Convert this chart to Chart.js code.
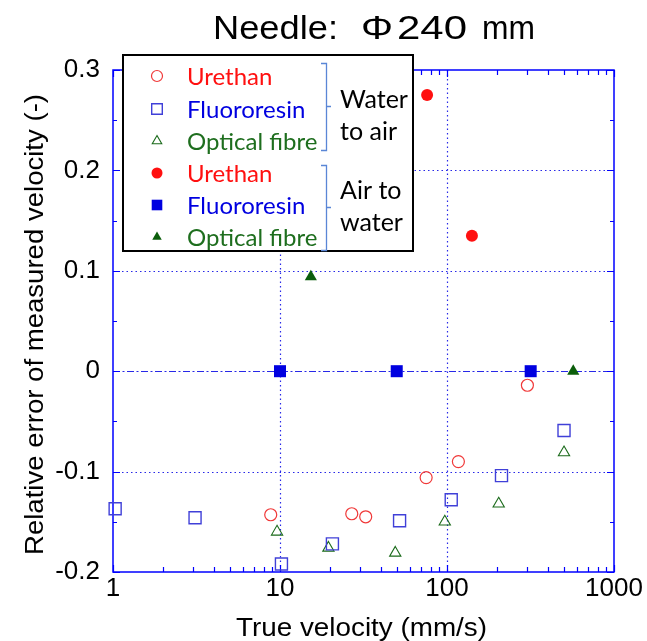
<!DOCTYPE html>
<html><head><meta charset="utf-8">
<script src="https://cdn.jsdelivr.net/npm/chart.js@4/dist/chart.umd.min.js"></script>
<style>html,body{margin:0;padding:0;background:#fff}#wrap{width:647px;height:641px;position:relative}</style>
</head><body><div id="wrap"><canvas id="c" width="647" height="641"></canvas></div>
<script>
// ---- text ----
const titleParts = ['Needle:', '\u03A6', '240', 'mm'];
const xTitle = 'True velocity (mm/s)';
const yTitle = 'Relative error of measured velocity (-)';
const xTickValues = [1, 10, 100, 1000];
const yTickValues = [-0.2, -0.1, 0, 0.1, 0.2, 0.3];
const materials = ['Urethan', 'Fluororesin', 'Optical fibre'];
const groupLabels = [['Water', 'to air'], ['Air to', 'water']];

// ---- data: water to air (open markers) ----
const w2aUrethanX = [8.8, 26.9, 32.6, 75, 117, 303];
const w2aUrethanY = [-0.143, -0.142, -0.145, -0.106, -0.090, -0.014];
const w2aFluoroX = [1.03, 3.1, 10.2, 20.6, 52, 106, 212, 502];
const w2aFluoroY = [-0.137, -0.146, -0.192, -0.172, -0.149, -0.128, -0.104, -0.059];
const w2aFibreX = [9.6, 19.5, 49, 97, 204, 502];
const w2aFibreY = [-0.160, -0.176, -0.181, -0.150, -0.132, -0.081];

// ---- data: air to water (filled markers) ----
const a2wUrethanX = [76, 141];
const a2wUrethanY = [0.275, 0.135];
const a2wFluoroX = [10, 50, 317];
const a2wFluoroY = [0, 0, 0];
const a2wFibreX = [15.3, 570];
const a2wFibreY = [0.094, 0];

const pts = (xs, ys) => xs.map((x, i) => ({x, y: ys[i]}));

const RED = '#FF1010', BLUE = '#0000E0', GREEN = '#0B5E0B';
const RED_O = '#F03838', BLUE_O = '#4040D8', GREEN_O = '#1A6A1A';

const datasets = [
  {label: materials[0], data: pts(w2aUrethanX, w2aUrethanY), pointStyle: 'circle', pointRadius: 6, borderWidth: 1.2, borderColor: RED_O, backgroundColor: 'rgba(0,0,0,0)'},
  {label: materials[1], data: pts(w2aFluoroX, w2aFluoroY), pointStyle: 'rect', pointRadius: 8.5, borderWidth: 1.4, borderColor: BLUE_O, backgroundColor: 'rgba(0,0,0,0)'},
  {label: materials[2], data: pts(w2aFibreX, w2aFibreY), pointStyle: 'triangle', pointRadius: 6.5, borderWidth: 1.1, borderColor: GREEN_O, backgroundColor: 'rgba(0,0,0,0)'},
  {label: materials[0], data: pts(a2wUrethanX, a2wUrethanY), pointStyle: 'circle', pointRadius: 6, borderWidth: 0, borderColor: RED, backgroundColor: RED},
  {label: materials[1], data: pts(a2wFluoroX, a2wFluoroY), pointStyle: 'rect', pointRadius: 8.5, borderWidth: 0, borderColor: BLUE, backgroundColor: BLUE},
  {label: materials[2], data: pts(a2wFibreX, a2wFibreY), pointStyle: 'triangle', pointRadius: 7, borderWidth: 0, borderColor: GREEN, backgroundColor: GREEN}
];
datasets.forEach(d => { d.showLine = false; d.clip = false; d.pointHoverRadius = d.pointRadius; });

const textColors = [RED, BLUE, '#1E6E1E'];
const LEG_FONT = '24px Lato';

function fitText(ctx, text, x0, x1, baseY) {
  const w = ctx.measureText(text).width;
  const s = (x1 - x0) / w;
  ctx.save();
  ctx.translate(x0, baseY);
  ctx.scale(s, 1);
  ctx.textAlign = 'left';
  ctx.textBaseline = 'alphabetic';
  ctx.fillText(text, 0, 0);
  ctx.restore();
}

const decor = {
  id: 'decor',
  beforeDatasetsDraw(chart) {
    const {ctx, chartArea: a, scales: {x, y}} = chart;
    ctx.save();
    ctx.strokeStyle = '#2828E8';
    ctx.lineWidth = 1.2;
    ctx.setLineDash([1.5, 3]);
    [0.2, 0.1, -0.1].forEach(v => {
      const py = Math.round(y.getPixelForValue(v)) + 0.5;
      ctx.beginPath(); ctx.moveTo(a.left, py); ctx.lineTo(a.right, py); ctx.stroke();
    });
    [10, 100].forEach(v => {
      const px = Math.round(x.getPixelForValue(v)) + 0.5;
      ctx.beginPath(); ctx.moveTo(px, a.top); ctx.lineTo(px, a.bottom); ctx.stroke();
    });
    ctx.setLineDash([7, 2.5, 2, 2.5]);
    const p0 = Math.round(y.getPixelForValue(0)) + 0.5;
    ctx.beginPath(); ctx.moveTo(a.left, p0); ctx.lineTo(a.right, p0); ctx.stroke();
    ctx.setLineDash([]);
    ctx.strokeStyle = '#0000FF';
    ctx.lineWidth = 1.5;
    ctx.strokeRect(a.left, a.top, a.right - a.left, a.bottom - a.top);
    ctx.lineWidth = 1.2;
    ctx.beginPath();
    for (let v = -0.2; v <= 0.3001; v += 0.05) {
      const py = Math.round(y.getPixelForValue(v)) + 0.5;
      const major = Math.abs(Math.round(v * 10) - v * 10) < 1e-6;
      const L = major ? 7 : 4;
      ctx.moveTo(a.left, py); ctx.lineTo(a.left + L, py);
      ctx.moveTo(a.right, py); ctx.lineTo(a.right - L, py);
    }
    [1, 10, 100].forEach(d => {
      for (let k = 1; k <= 10; k++) {
        const v = d * k;
        const px = Math.round(x.getPixelForValue(v)) + 0.5;
        const L = (k === 1 || k === 10) ? 7 : 5;
        ctx.moveTo(px, a.bottom); ctx.lineTo(px, a.bottom - L);
        ctx.moveTo(px, a.top); ctx.lineTo(px, a.top + L);
      }
    });
    ctx.stroke();
    ctx.restore();
  },
  afterDatasetsDraw(chart) {
    const {ctx} = chart;
    ctx.save();
    ctx.fillStyle = '#000';
    // title
    ctx.font = '34px "Liberation Sans"';
    fitText(ctx, titleParts[0], 213, 338, 39);
    fitText(ctx, titleParts[1], 361, 393, 39);
    fitText(ctx, titleParts[2], 397, 467, 39);
    fitText(ctx, titleParts[3], 482, 535, 39);
    // axis titles
    ctx.font = '25px "Liberation Sans"';
    fitText(ctx, xTitle, 236, 487, 636);
    ctx.save();
    ctx.translate(43, 0);
    ctx.rotate(-Math.PI / 2);
    fitText(ctx, yTitle, -555, -94, 0);
    ctx.restore();
    // legend box
    const L = 123, T = 55, R = 413, B = 251;
    ctx.fillStyle = '#fff';
    ctx.fillRect(L, T, R - L, B - T);
    ctx.strokeStyle = '#000';
    ctx.lineWidth = 2;
    ctx.strokeRect(L, T, R - L, B - T);
    const rows = [76, 109, 141, 173, 205, 237];
    ctx.textAlign = 'left';
    ctx.textBaseline = 'middle';
    ctx.font = LEG_FONT;
    chart.data.datasets.forEach((d, i) => {
      const yy = rows[i];
      ctx.fillStyle = d.backgroundColor;
      ctx.strokeStyle = d.borderColor;
      ctx.lineWidth = d.borderWidth;
      const r = d.pointStyle === 'rect' ? 7.5 : 5.5;
      Chart.helpers.drawPoint(ctx, {pointStyle: d.pointStyle, radius: r, borderWidth: d.borderWidth, rotation: 0}, 157, yy);
      ctx.fillStyle = textColors[i % 3];
      ctx.fillText(d.label, 187, yy + 1);
    });
    ctx.strokeStyle = '#5A86D6';
    ctx.lineWidth = 1.3;
    [[63, 150], [165, 250]].forEach(([t, b]) => {
      const m = (t + b) / 2;
      ctx.beginPath();
      ctx.moveTo(321, t + 0.5); ctx.lineTo(326.5, t + 0.5); ctx.lineTo(326.5, b + 0.5); ctx.lineTo(321, b + 0.5);
      ctx.moveTo(326.5, m); ctx.lineTo(331, m);
      ctx.stroke();
    });
    ctx.fillStyle = '#000';
    ctx.font = '25px Lato';
    ctx.fillText(groupLabels[0][0], 340, 100);
    ctx.fillText(groupLabels[0][1], 340, 132);
    ctx.fillText(groupLabels[1][0], 340, 191);
    ctx.fillText(groupLabels[1][1], 340, 223);
    ctx.restore();
  }
};

new Chart(document.getElementById('c'), {
  type: 'scatter',
  data: {datasets},
  plugins: [decor],
  options: {
    responsive: false,
    animation: false,
    events: [],
    layout: {padding: {top: 70, right: 33, left: 0, bottom: 0}},
    plugins: {legend: {display: false}, tooltip: {enabled: false}, title: {display: false}},
    scales: {
      x: {
        type: 'logarithmic', min: 1, max: 1000,
        grid: {display: false, drawTicks: false}, border: {display: false},
        afterBuildTicks: s => { s.ticks = xTickValues.map(v => ({value: v})); },
        afterFit: s => { s.height = 69; },
        ticks: {color: '#000', font: {family: 'Liberation Sans', size: 26}, padding: 1, maxRotation: 0, autoSkip: false,
          callback: v => String(v)},
        title: {display: false}
      },
      y: {
        type: 'linear', min: -0.2, max: 0.3,
        grid: {display: false, drawTicks: false}, border: {display: false},
        afterBuildTicks: s => { s.ticks = yTickValues.map(v => ({value: v})); },
        afterFit: s => { s.width = 113; },
        ticks: {color: '#000', font: {family: 'Liberation Sans', size: 26}, padding: 13,
          callback: v => Math.abs(v) < 1e-9 ? '0' : v.toFixed(1)},
        title: {display: false}
      }
    }
  }
});
</script></body></html>
